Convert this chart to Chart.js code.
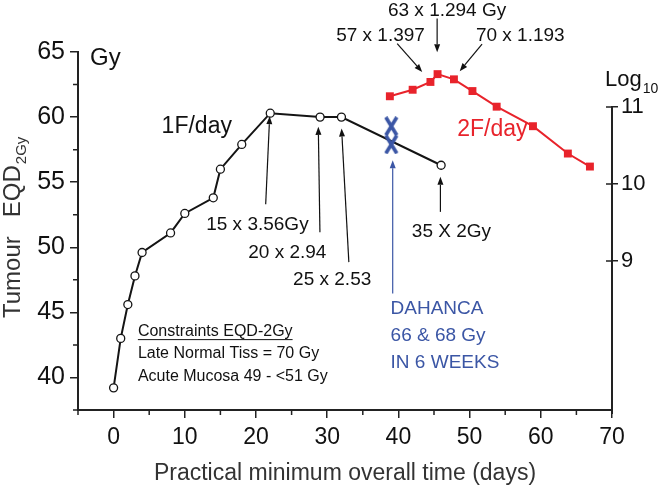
<!DOCTYPE html>
<html>
<head>
<meta charset="utf-8">
<title>Tumour EQD2Gy vs overall time</title>
<script src="https://cdn.jsdelivr.net/npm/chart.js@4.4.0/dist/chart.umd.min.js"></script>
<style>
  html, body { margin: 0; padding: 0; background: #fff; }
</style>
</head>
<body>
<canvas id="eqd-chart" width="664" height="489"></canvas>
<script>
// 1 fraction / day (open circles)
var oneFDays = [0, 1, 2, 3, 4, 8, 10, 14, 15, 18, 22, 29, 32, 46];
var oneFEqd  = [39.2, 43.0, 45.6, 47.8, 49.6, 51.1, 52.6, 53.8, 56.0, 57.9, 60.3, 60.0, 60.0, 56.3];
// 2 fractions / day (red squares)
var twoFDays = [38.8, 42, 44.5, 45.5, 47.8, 50.4, 53.8, 58.9, 63.8, 66.9];
var twoFEqd  = [61.6, 62.1, 62.7, 63.3, 62.9, 62.0, 60.8, 59.3, 57.2, 56.2];
// DAHANCA 66 & 68 Gy in 6 weeks
var dahancaDays = [39, 39];
var dahancaEqd  = [59.3, 57.9];

var xTicks   = [0, 10, 20, 30, 40, 50, 60, 70];
var yTicks   = [40, 45, 50, 55, 60, 65];
var logTicks = [9, 10, 11];

// arrow labels: text at (tx,ty), arrow from (x1,y1) to tip (x2,y2), all in data units
var arrowNotes = [
  { text: '15 x 3.56Gy',   tx: 20.2,  ty: 51.7,  x1: 21.36, y1: 53.3,  x2: 21.92, y2: 60.07 },
  { text: '20 x 2.94',     tx: 24.4,  ty: 49.57, x1: 28.98, y1: 51.16, x2: 28.75, y2: 59.25 },
  { text: '25 x 2.53',     tx: 30.7,  ty: 47.47, x1: 33.04, y1: 48.86, x2: 32.02, y2: 59.12 },
  { text: '35 X 2Gy',      tx: 47.45, ty: 51.18, x1: 45.9,  y1: 52.72, x2: 45.9,  y2: 55.41 },
  { text: '63 x 1.294 Gy', tx: 46.84, ty: 68.13, x1: 45.44, y1: 67.57, x2: 45.44, y2: 64.99 },
  { text: '57 x 1.397',    tx: 37.49, ty: 66.21, x1: 39.83, y1: 65.65, x2: 43.34, y2: 63.47 },
  { text: '70 x 1.193',    tx: 57.12, ty: 66.21, x1: 51.75, y1: 65.6,  x2: 48.61, y2: 63.53 }
];
var dahancaLines = ['DAHANCA', '66 & 68 Gy', 'IN 6 WEEKS'];
var constraintLines = ['Constraints EQD-2Gy', 'Late Normal Tiss = 70 Gy', 'Acute Mucosa 49 - <51 Gy'];

var BLACK = '#141414', RED = '#e8232b', BLUE = '#3b56a5';
var FONT = '"Liberation Sans", Arial, Helvetica, sans-serif';
Chart.defaults.font.family = FONT;

function pts(xs, ys) {
  return xs.map(function (x, i) { return { x: x, y: ys[i] }; });
}

// tall "X" marker for the DAHANCA points
var xMark = document.createElement('canvas');
xMark.width = 15; xMark.height = 20;
(function () {
  var c = xMark.getContext('2d');
  c.strokeStyle = BLUE; c.lineWidth = 3.6;
  c.beginPath();
  c.moveTo(2, 1); c.lineTo(13, 19);
  c.moveTo(13, 1); c.lineTo(2, 19);
  c.stroke();
})();

function arrow(ctx, x1, y1, x2, y2, color) {
  var a = Math.atan2(y2 - y1, x2 - x1), hl = 8, hw = 3;
  ctx.strokeStyle = color; ctx.fillStyle = color; ctx.lineWidth = 1.2;
  ctx.beginPath(); ctx.moveTo(x1, y1);
  ctx.lineTo(x2 - hl * Math.cos(a), y2 - hl * Math.sin(a)); ctx.stroke();
  ctx.beginPath();
  ctx.moveTo(x2, y2);
  ctx.lineTo(x2 - hl * Math.cos(a) + hw * Math.sin(a), y2 - hl * Math.sin(a) - hw * Math.cos(a));
  ctx.lineTo(x2 - hl * Math.cos(a) - hw * Math.sin(a), y2 - hl * Math.sin(a) + hw * Math.cos(a));
  ctx.closePath(); ctx.fill();
}

var decorPlugin = {
  id: 'decor',
  afterDraw: function (chart) {
    var ctx = chart.ctx, xs = chart.scales.x, ys = chart.scales.y, y2 = chart.scales.y2;
    var area = chart.chartArea;
    ctx.save();

    // minor ticks
    ctx.strokeStyle = '#222'; ctx.lineWidth = 1.5;
    ctx.beginPath();
    for (var d = -5; d < 70; d += 10) {
      var px = xs.getPixelForValue(d);
      ctx.moveTo(px, area.bottom); ctx.lineTo(px, area.bottom + 5);
    }
    for (var v = 37.5; v < 65; v += 5) {
      var py = ys.getPixelForValue(v);
      ctx.moveTo(area.left, py); ctx.lineTo(area.left - 5, py);
    }
    ctx.stroke();

    // right log axis line, only from 11 down
    ctx.lineWidth = 2;
    ctx.beginPath();
    ctx.moveTo(area.right, y2.getPixelForValue(11) - 1);
    ctx.lineTo(area.right, area.bottom + 4);
    ctx.stroke();
    ctx.lineWidth = 1.5;
    ctx.beginPath();
    logTicks.forEach(function (t) {
      var py = y2.getPixelForValue(t);
      ctx.moveTo(area.right - 6, py); ctx.lineTo(area.right, py);
    });
    ctx.stroke();

    // axis headers
    ctx.fillStyle = '#111';
    ctx.textBaseline = 'alphabetic'; ctx.textAlign = 'left';
    ctx.font = '24px ' + FONT;
    ctx.fillText('Gy', area.left + 12, area.top + 13);
    ctx.font = '22px ' + FONT;
    ctx.fillText('Log', area.right - 7, y2.getPixelForValue(11) - 21);
    var lw = ctx.measureText('Log').width;
    ctx.font = '14px ' + FONT;
    ctx.fillText('10', area.right - 7 + lw + 1, y2.getPixelForValue(11) - 14);

    // axis titles
    ctx.fillStyle = '#333';
    ctx.font = '23px ' + FONT;
    ctx.textAlign = 'center'; ctx.textBaseline = 'middle';
    ctx.fillText('Practical minimum overall time (days)', (area.left + area.right) / 2, 474);

    ctx.save();
    ctx.translate(20, 318);
    ctx.rotate(-Math.PI / 2);
    ctx.textAlign = 'left'; ctx.textBaseline = 'alphabetic';
    ctx.font = '24px ' + FONT;
    ctx.fillText('Tumour', 0, 0);
    var tw = ctx.measureText('Tumour').width + 19;
    ctx.fillText('EQD', tw, 0);
    tw += ctx.measureText('EQD').width + 1;
    ctx.font = '15px ' + FONT;
    ctx.fillText('2Gy', tw, 6);
    ctx.restore();

    // series labels
    ctx.textAlign = 'center'; ctx.textBaseline = 'middle';
    ctx.font = '23px ' + FONT;
    ctx.fillStyle = '#111';
    ctx.fillText('1F/day', xs.getPixelForValue(11.68), ys.getPixelForValue(59.23));
    ctx.fillStyle = RED;
    ctx.fillText('2F/day', xs.getPixelForValue(53.2), ys.getPixelForValue(59.0));

    // arrow notes
    ctx.font = '19px ' + FONT;
    arrowNotes.forEach(function (n) {
      arrow(ctx, xs.getPixelForValue(n.x1), ys.getPixelForValue(n.y1),
        xs.getPixelForValue(n.x2), ys.getPixelForValue(n.y2), '#111');
      ctx.fillStyle = '#111';
      ctx.fillText(n.text, xs.getPixelForValue(n.tx), ys.getPixelForValue(n.ty));
    });

    // DAHANCA
    arrow(ctx, xs.getPixelForValue(39.2), ys.getPixelForValue(46.45),
      xs.getPixelForValue(39.2), ys.getPixelForValue(56.69), BLUE);
    ctx.fillStyle = BLUE; ctx.textAlign = 'left';
    dahancaLines.forEach(function (t, i) {
      ctx.fillText(t, xs.getPixelForValue(38.9), ys.getPixelForValue(45.25) + i * 27);
    });

    // constraints box
    ctx.fillStyle = '#111';
    ctx.font = '16px ' + FONT;
    var cx = xs.getPixelForValue(3.41), cy = ys.getPixelForValue(43.56);
    constraintLines.forEach(function (t, i) {
      ctx.fillText(t, cx, cy + i * 22.5);
    });
    var uw = ctx.measureText(constraintLines[0]).width;
    ctx.strokeStyle = '#111'; ctx.lineWidth = 1;
    ctx.beginPath(); ctx.moveTo(cx, cy + 8.5); ctx.lineTo(cx + uw, cy + 8.5); ctx.stroke();

    ctx.restore();
  }
};

var ctx = document.getElementById('eqd-chart').getContext('2d');
var eqdChart = new Chart(ctx, {
  type: 'scatter',
  data: {
    datasets: [{
      label: 'DAHANCA',
      data: pts(dahancaDays, dahancaEqd),
      showLine: false,
      pointStyle: xMark,
      pointRadius: 8,
      order: -1
    }, {
      label: '2F/day',
      data: pts(twoFDays, twoFEqd),
      showLine: true,
      borderColor: RED,
      borderWidth: 2,
      pointStyle: 'rect',
      pointRadius: 5.6,
      pointBackgroundColor: RED,
      pointBorderColor: RED,
      pointBorderWidth: 0
    }, {
      label: '1F/day',
      data: pts(oneFDays, oneFEqd),
      showLine: true,
      borderColor: BLACK,
      borderWidth: 2,
      pointRadius: 4,
      pointBackgroundColor: '#fff',
      pointBorderColor: BLACK,
      pointBorderWidth: 1.3
    }]
  },
  options: {
    responsive: false,
    animation: false,
    layout: { padding: { top: 52, left: 0, right: 0, bottom: 0 } },
    plugins: { legend: { display: false }, tooltip: { enabled: false } },
    scales: {
      x: {
        type: 'linear', min: -5, max: 70,
        afterBuildTicks: function (s) { s.ticks = xTicks.map(function (v) { return { value: v }; }); },
        afterFit: function (s) { s.height = 79; },
        border: { color: '#222', width: 2 },
        grid: { drawOnChartArea: false, tickLength: 8, color: '#222', lineWidth: 1.5 },
        ticks: { color: '#111', font: { size: 23 }, padding: 6, maxRotation: 0 }
      },
      y: {
        type: 'linear', position: 'left', min: 37.5, max: 65,
        afterBuildTicks: function (s) { s.ticks = yTicks.map(function (v) { return { value: v }; }); },
        afterFit: function (s) { s.width = 78; },
        border: { color: '#222', width: 2 },
        grid: { drawOnChartArea: false, tickLength: 8, color: '#222', lineWidth: 1.5 },
        ticks: { color: '#111', font: { size: 25 }, padding: 5 }
      },
      y2: {
        type: 'linear', position: 'right', min: 7.065, max: 11.714,
        afterBuildTicks: function (s) { s.ticks = logTicks.map(function (v) { return { value: v }; }); },
        afterFit: function (s) { s.width = 52; },
        border: { display: false },
        grid: { drawOnChartArea: false, tickLength: 6, color: '#222', lineWidth: 1.5 },
        ticks: { color: '#111', font: { size: 22 }, padding: 3 }
      }
    }
  },
  plugins: [decorPlugin]
});
</script>
</body>
</html>
